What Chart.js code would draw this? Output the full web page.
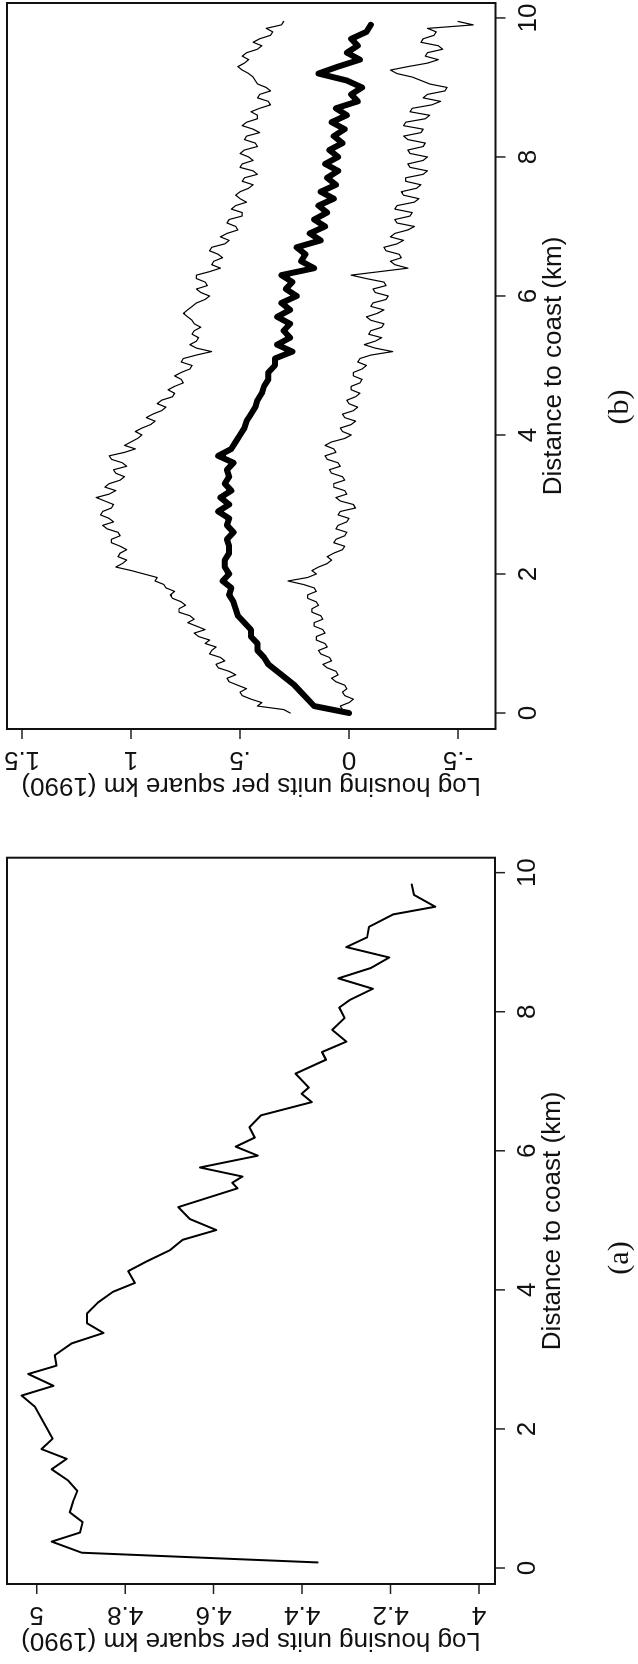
<!DOCTYPE html>
<html>
<head>
<meta charset="utf-8">
<script src="https://cdn.jsdelivr.net/npm/chart.js@4.4.1/dist/chart.umd.min.js"></script>
<style>
  html, body { margin: 0; padding: 0; background: #fff; overflow: hidden; }
  body { width: 638px; height: 1664px; position: relative; }
  /* the figure is laid out landscape and turned a quarter turn to the left */
  #fig { position: absolute; left: 0; top: 1664px; width: 1664px; height: 638px;
         transform-origin: 0 0; transform: rotate(-90deg); background: #fff; }
  #fig canvas { position: absolute; top: 0; }
</style>
</head>
<body>
<div id="fig">
  <canvas id="panelA" width="832" height="638" style="left:0"></canvas>
  <canvas id="panelB" width="832" height="638" style="left:832px"></canvas>
</div>
<script>
// ---- panel (a): log housing density by distance to coast
var distA = [0.08, 0.22, 0.38, 0.51, 0.66, 0.80, 0.95, 1.11, 1.26, 1.42, 1.57, 1.71, 1.86,
  2.32, 2.48, 2.62, 2.79, 2.91, 3.06, 3.23, 3.38, 3.52, 3.66, 3.82, 3.97, 4.10, 4.27, 4.41,
  4.57, 4.72, 4.86, 5.02, 5.19, 5.46, 5.54, 5.63, 5.76, 5.93, 6.06, 6.19, 6.34, 6.51, 6.70,
  6.82, 6.91, 7.11, 7.31, 7.42, 7.57, 7.74, 7.91, 8.06, 8.17, 8.33, 8.48, 8.63, 8.78, 8.93,
  9.07, 9.22, 9.40, 9.51, 9.68, 9.83];
var logA = [4.365, 4.898, 4.966, 4.902, 4.896, 4.925, 4.918, 4.908, 4.929, 4.966, 4.932, 4.989, 4.964,
  5.004, 5.034, 4.962, 5.019, 4.955, 4.959, 4.921, 4.849, 4.886, 4.886, 4.861, 4.828, 4.778, 4.793, 4.751,
  4.699, 4.670, 4.594, 4.654, 4.680, 4.546, 4.558, 4.535, 4.631, 4.500, 4.550, 4.507, 4.519, 4.493, 4.378,
  4.401, 4.385, 4.415, 4.346, 4.355, 4.300, 4.332, 4.304, 4.316, 4.292, 4.240, 4.318, 4.244, 4.203, 4.300,
  4.253, 4.249, 4.194, 4.099, 4.147, 4.152];

// ---- panel (b): thin upper and lower bands on a finer grid, thick mean line
var distBand = [0.00, 0.05, 0.10, 0.15, 0.20, 0.25, 0.30, 0.35, 0.40, 0.45, 0.50, 0.55, 0.60, 0.65, 0.70, 0.75, 0.80, 0.85, 0.90, 0.95,
  1.00, 1.05, 1.10, 1.15, 1.20, 1.25, 1.30, 1.35, 1.40, 1.45, 1.50, 1.55, 1.60, 1.65, 1.70, 1.75, 1.80, 1.85, 1.90, 1.95,
  2.00, 2.05, 2.10, 2.15, 2.20, 2.25, 2.30, 2.35, 2.40, 2.45, 2.50, 2.55, 2.60, 2.65, 2.70, 2.75, 2.80, 2.85, 2.90, 2.95,
  3.00, 3.05, 3.10, 3.15, 3.20, 3.25, 3.30, 3.35, 3.40, 3.45, 3.50, 3.55, 3.60, 3.65, 3.70, 3.75, 3.80, 3.85, 3.90, 3.95,
  4.00, 4.05, 4.10, 4.15, 4.20, 4.25, 4.30, 4.35, 4.40, 4.45, 4.50, 4.55, 4.60, 4.65, 4.70, 4.75, 4.80, 4.85, 4.90, 4.95,
  5.00, 5.05, 5.10, 5.15, 5.20, 5.25, 5.30, 5.35, 5.40, 5.45, 5.50, 5.55, 5.60, 5.65, 5.70, 5.75, 5.80, 5.85, 5.90, 5.95,
  6.00, 6.05, 6.10, 6.15, 6.20, 6.25, 6.30, 6.35, 6.40, 6.45, 6.50, 6.55, 6.60, 6.65, 6.70, 6.75, 6.80, 6.85, 6.90, 6.95,
  7.00, 7.05, 7.10, 7.15, 7.20, 7.25, 7.30, 7.35, 7.40, 7.45, 7.50, 7.55, 7.60, 7.65, 7.70, 7.75, 7.80, 7.85, 7.90, 7.95,
  8.00, 8.05, 8.10, 8.15, 8.20, 8.25, 8.30, 8.35, 8.40, 8.45, 8.50, 8.55, 8.60, 8.65, 8.70, 8.75, 8.80, 8.85, 8.90, 8.95,
  9.00, 9.05, 9.10, 9.15, 9.20, 9.25, 9.30, 9.35, 9.40, 9.45, 9.50, 9.55, 9.60, 9.65, 9.70, 9.75, 9.80, 9.85, 9.90, 9.95];
var upperB = [0.27, 0.30, 0.42, 0.40, 0.45, 0.49, 0.50, 0.47, 0.51, 0.55, 0.56, 0.52, 0.55, 0.60, 0.61, 0.57, 0.59, 0.64, 0.63, 0.61,
  0.66, 0.64, 0.69, 0.71, 0.66, 0.70, 0.74, 0.71, 0.73, 0.78, 0.78, 0.75, 0.77, 0.81, 0.82, 0.80, 0.84, 0.85, 0.89, 0.88,
  0.94, 1.00, 1.07, 1.04, 1.02, 1.06, 1.05, 1.02, 1.05, 1.09, 1.09, 1.05, 1.06, 1.11, 1.13, 1.08, 1.10, 1.14, 1.13, 1.09,
  1.08, 1.12, 1.16, 1.10, 1.07, 1.12, 1.10, 1.05, 1.03, 1.07, 1.08, 1.02, 1.04, 1.09, 1.10, 1.03, 0.98, 1.03, 1.00, 0.97,
  0.95, 0.98, 0.95, 0.91, 0.89, 0.93, 0.90, 0.86, 0.84, 0.88, 0.86, 0.81, 0.80, 0.83, 0.80, 0.76, 0.77, 0.80, 0.77, 0.73,
  0.72, 0.77, 0.76, 0.70, 0.63, 0.70, 0.73, 0.70, 0.69, 0.72, 0.71, 0.68, 0.71, 0.72, 0.74, 0.76, 0.74, 0.72, 0.70, 0.66,
  0.64, 0.68, 0.70, 0.65, 0.66, 0.70, 0.70, 0.64, 0.59, 0.63, 0.62, 0.58, 0.60, 0.64, 0.63, 0.57, 0.55, 0.59, 0.56, 0.51,
  0.52, 0.56, 0.55, 0.49, 0.49, 0.54, 0.52, 0.47, 0.50, 0.52, 0.50, 0.46, 0.44, 0.49, 0.48, 0.42, 0.44, 0.50, 0.49, 0.44,
  0.46, 0.50, 0.48, 0.42, 0.43, 0.48, 0.47, 0.41, 0.44, 0.49, 0.47, 0.42, 0.42, 0.45, 0.41, 0.36, 0.37, 0.42, 0.41, 0.36,
  0.38, 0.42, 0.43, 0.44, 0.46, 0.49, 0.51, 0.48, 0.46, 0.49, 0.47, 0.42, 0.40, 0.44, 0.41, 0.36, 0.35, 0.38, 0.31, 0.30];
var lowerB = [0.01, 0.03, 0.04, 0.00, -0.02, 0.02, 0.03, 0.01, 0.02, 0.06, 0.08, 0.05, 0.06, 0.10, 0.12, 0.08, 0.09, 0.13, 0.14, 0.10,
  0.11, 0.15, 0.15, 0.11, 0.12, 0.16, 0.16, 0.12, 0.13, 0.17, 0.17, 0.14, 0.15, 0.19, 0.19, 0.15, 0.16, 0.21, 0.28, 0.19,
  0.15, 0.17, 0.14, 0.10, 0.08, 0.10, 0.07, 0.03, 0.02, 0.07, 0.06, 0.02, 0.01, 0.06, 0.05, 0.01, 0.00, 0.05, 0.04, -0.03,
  -0.02, 0.04, 0.06, 0.01, 0.02, 0.07, 0.07, 0.02, 0.03, 0.08, 0.09, 0.04, 0.05, 0.10, 0.11, 0.06, 0.07, 0.11, 0.08, 0.02,
  -0.01, 0.03, 0.04, -0.01, -0.03, 0.02, 0.03, -0.02, -0.04, 0.00, 0.01, -0.03, -0.05, -0.01, -0.01, -0.05, -0.06, -0.02, -0.02, -0.06,
  -0.08, -0.04, -0.05, -0.10, -0.20, -0.12, -0.07, -0.12, -0.15, -0.09, -0.10, -0.15, -0.16, -0.10, -0.08, -0.13, -0.16, -0.10, -0.11, -0.17,
  -0.18, -0.12, -0.11, -0.17, -0.16, -0.08, -0.01, -0.14, -0.27, -0.21, -0.19, -0.24, -0.23, -0.17, -0.16, -0.22, -0.25, -0.19, -0.21, -0.27,
  -0.30, -0.22, -0.21, -0.28, -0.29, -0.21, -0.22, -0.30, -0.32, -0.25, -0.24, -0.31, -0.33, -0.26, -0.26, -0.34, -0.36, -0.28, -0.27, -0.34,
  -0.36, -0.28, -0.27, -0.34, -0.35, -0.27, -0.25, -0.33, -0.34, -0.25, -0.26, -0.35, -0.37, -0.28, -0.29, -0.38, -0.42, -0.34, -0.36, -0.44,
  -0.45, -0.37, -0.33, -0.29, -0.22, -0.19, -0.27, -0.36, -0.41, -0.35, -0.36, -0.43, -0.41, -0.33, -0.34, -0.39, -0.40, -0.36, -0.57, -0.50];
var distMean = [0.0, 0.1, 0.2, 0.3, 0.4, 0.5, 0.6, 0.7, 0.8, 0.9, 1.0, 1.1, 1.2, 1.3, 1.4, 1.5, 1.6, 1.7, 1.8, 1.9,
  2.0, 2.1, 2.2, 2.3, 2.4, 2.5, 2.6, 2.7, 2.8, 2.9, 3.0, 3.1, 3.2, 3.3, 3.4, 3.5, 3.6, 3.7, 3.8, 3.9,
  4.0, 4.1, 4.2, 4.3, 4.4, 4.5, 4.6, 4.7, 4.8, 4.9, 5.0, 5.1, 5.2, 5.3, 5.4, 5.5, 5.6, 5.7, 5.8, 5.9,
  6.0, 6.1, 6.2, 6.3, 6.4, 6.5, 6.6, 6.7, 6.8, 6.9, 7.0, 7.1, 7.2, 7.3, 7.4, 7.5, 7.6, 7.7, 7.8, 7.9,
  8.0, 8.1, 8.2, 8.3, 8.4, 8.5, 8.6, 8.7, 8.8, 8.9, 9.0, 9.1, 9.2, 9.3, 9.4, 9.5, 9.6, 9.7, 9.8, 9.9];
var meanB = [0.00, 0.16, 0.19, 0.22, 0.25, 0.29, 0.33, 0.37, 0.39, 0.42, 0.42, 0.45, 0.45, 0.48, 0.51, 0.52, 0.53, 0.55, 0.54, 0.58,
  0.55, 0.57, 0.57, 0.55, 0.55, 0.56, 0.53, 0.56, 0.55, 0.60, 0.55, 0.59, 0.54, 0.57, 0.55, 0.56, 0.53, 0.60, 0.54, 0.52,
  0.50, 0.48, 0.47, 0.45, 0.43, 0.42, 0.40, 0.39, 0.37, 0.37, 0.34, 0.34, 0.26, 0.33, 0.27, 0.30, 0.27, 0.33, 0.27, 0.31,
  0.24, 0.29, 0.26, 0.31, 0.16, 0.22, 0.20, 0.24, 0.13, 0.18, 0.11, 0.16, 0.10, 0.14, 0.07, 0.13, 0.06, 0.10, 0.05, 0.11,
  0.05, 0.09, 0.03, 0.07, 0.02, 0.08, 0.01, 0.06, -0.04, -0.01, -0.06, 0.01, 0.14, 0.05, -0.05, 0.01, -0.04, -0.01, -0.08, -0.10];

// ---- axes
var xTicks = [0, 2, 4, 6, 8, 10];
var xTickLabels = ['0', '2', '4', '6', '8', '10'];
var yTicksA = [4, 4.2, 4.4, 4.6, 4.8, 5];
var yTickLabelsA = ['4', '4.2', '4.4', '4.6', '4.8', '5'];
var yTicksB = [-0.5, 0, 0.5, 1, 1.5];
var yTickLabelsB = ['-.5', '0', '.5', '1', '1.5'];
var xTitle = 'Distance to coast (km)';
var yTitle = 'Log housing units per square km (1990)';

var SANS = '26px "Liberation Sans", Arial, Helvetica, sans-serif';

function pairs(xs, ys) {
  return xs.map(function(x, i) { return { x: x, y: ys[i] }; });
}

// box, outward ticks and labels in the old Stata look
var stataFrame = {
  id: 'stataFrame',
  afterDraw: function(chart) {
    var o = chart.options.plugins.stataFrame;
    var ctx = chart.ctx;
    var a = chart.chartArea;
    var xs = chart.scales.x, ys = chart.scales.y;
    ctx.save();
    ctx.fillStyle = '#111';
    ctx.strokeStyle = '#222';

    ctx.lineWidth = 1.5;
    ctx.beginPath();
    o.xTicks.forEach(function(v) {
      var px = xs.getPixelForValue(v);
      ctx.moveTo(px, a.bottom); ctx.lineTo(px, a.bottom + 10);
    });
    o.yTicks.forEach(function(v) {
      var py = ys.getPixelForValue(v);
      ctx.moveTo(a.left, py); ctx.lineTo(a.left - 10, py);
    });
    ctx.stroke();

    ctx.lineWidth = 2;
    ctx.strokeStyle = '#111';
    ctx.strokeRect(a.left, a.top, a.right - a.left, a.bottom - a.top);

    ctx.font = SANS;
    ctx.textAlign = 'center';
    ctx.textBaseline = 'alphabetic';
    o.xTicks.forEach(function(v, i) {
      ctx.fillText(o.xLabels[i], xs.getPixelForValue(v), a.bottom + 40);
    });
    ctx.fillText(xTitle, (a.left + a.right) / 2, a.bottom + 65);

    o.yTicks.forEach(function(v, i) {
      ctx.save();
      ctx.translate(a.left - 23.5, ys.getPixelForValue(v));
      ctx.rotate(-Math.PI / 2);
      ctx.fillText(o.yLabels[i], 0, 0);
      ctx.restore();
    });
    ctx.save();
    ctx.translate(a.left - 49.5, (a.top + a.bottom) / 2);
    ctx.rotate(-Math.PI / 2);
    ctx.fillText(yTitle, 0, 0);
    ctx.restore();

    ctx.font = '30px "Liberation Serif", "DejaVu Serif", serif';
    ctx.fillText(o.caption, o.captionX, 628);
    ctx.restore();
  }
};

function makePanel(id, datasets, padding, yMin, yMax, frame) {
  return new Chart(document.getElementById(id).getContext('2d'), {
    type: 'line',
    data: { datasets: datasets },
    options: {
      responsive: false,
      devicePixelRatio: 1,
      animation: false,
      layout: { padding: padding },
      elements: { point: { radius: 0 }, line: { tension: 0, borderJoinStyle: 'round', borderCapStyle: 'round' } },
      scales: {
        x: { type: 'linear', min: -0.23, max: 10.215, display: false },
        y: { type: 'linear', min: yMin, max: yMax, display: false }
      },
      plugins: { legend: { display: false }, tooltip: { enabled: false }, stataFrame: frame }
    },
    plugins: [stataFrame]
  });
}

makePanel('panelA', [
  { data: pairs(distA, logA), borderColor: '#000', borderWidth: 2 }
], { left: 80, right: 25.7, top: 7, bottom: 143 }, 3.964, 5.067, {
  xTicks: xTicks, xLabels: xTickLabels, yTicks: yTicksA, yLabels: yTickLabelsA,
  caption: '(a)', captionX: 406
});

makePanel('panelB', [
  { data: pairs(distBand, upperB), borderColor: '#000', borderWidth: 1.2 },
  { data: pairs(distBand, lowerB), borderColor: '#000', borderWidth: 1.2 },
  { data: pairs(distMean, meanB), borderColor: '#000', borderWidth: 6 }
], { left: 103, right: 3, top: 7, bottom: 142.5 }, -0.672, 1.569, {
  xTicks: xTicks, xLabels: xTickLabels, yTicks: yTicksB, yLabels: yTickLabelsB,
  caption: '(b)', captionX: 425
});
</script>
</body>
</html>
